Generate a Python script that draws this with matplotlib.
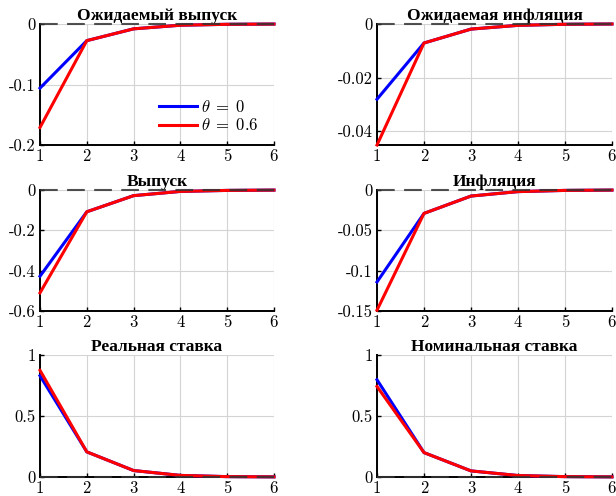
import matplotlib
matplotlib.use("Agg")
import matplotlib.pyplot as plt
from matplotlib.ticker import FuncFormatter

# Impulse responses, horizons 1..6
horizon = [1, 2, 3, 4, 5, 6]

exp_output_0 = [-0.106, -0.0275, -0.008, -0.002, -0.0005, -0.0001]
exp_output_06 = [-0.171, -0.0275, -0.008, -0.002, -0.0005, -0.0001]

exp_infl_0 = [-0.0281, -0.0071, -0.0019, -0.0005, -0.0001, 0.0]
exp_infl_06 = [-0.0452, -0.0071, -0.0019, -0.0005, -0.0001, 0.0]

output_0 = [-0.4275, -0.108, -0.028, -0.007, -0.002, -0.0005]
output_06 = [-0.51, -0.108, -0.028, -0.007, -0.002, -0.0005]

infl_0 = [-0.114, -0.029, -0.0075, -0.002, -0.0005, -0.0001]
infl_06 = [-0.149, -0.029, -0.0075, -0.002, -0.0005, -0.0001]

real_rate_0 = [0.83, 0.206, 0.053, 0.013, 0.003, 0.001]
real_rate_06 = [0.874, 0.206, 0.053, 0.013, 0.003, 0.001]

nom_rate_0 = [0.797, 0.20, 0.05, 0.012, 0.003, 0.001]
nom_rate_06 = [0.742, 0.20, 0.05, 0.012, 0.003, 0.001]

titles = [
    "Ожидаемый выпуск", "Ожидаемая инфляция",
    "Выпуск", "Инфляция",
    "Реальная ставка", "Номинальная ставка",
]
ylims = [(-0.2, 0), (-0.0452, 0), (-0.6, 0), (-0.15, 0), (0, 1), (0, 1)]
yticks = [
    [-0.2, -0.1, 0],
    [-0.04, -0.02, 0],
    [-0.6, -0.4, -0.2, 0],
    [-0.15, -0.1, -0.05, 0],
    [0, 0.5, 1],
    [0, 0.5, 1],
]
series = [
    (exp_output_0, exp_output_06),
    (exp_infl_0, exp_infl_06),
    (output_0, output_06),
    (infl_0, infl_06),
    (real_rate_0, real_rate_06),
    (nom_rate_0, nom_rate_06),
]

plt.rcParams["font.family"] = ["cmr10"]
plt.rcParams["mathtext.fontset"] = "cm"

W, H = 616, 496
fig = plt.figure(figsize=(W / 100, H / 100), dpi=100)

# axes boxes in pixels: (left, right) and (top, bottom)
col_x = [(40, 274), (377, 612)]
row_y = [(24, 145), (190, 311), (355, 477)]


def fmt(v, pos):
    return f"{v:g}"


for i in range(6):
    r, c = divmod(i, 2)
    x0, x1 = col_x[c]
    y0, y1 = row_y[r]
    ax = fig.add_axes([x0 / W, 1 - y1 / H, (x1 - x0) / W, (y1 - y0) / H])

    y_a, y_b = series[i]
    ax.plot(horizon, y_a, color="blue", lw=2.2, label=r"$\theta\;=\;0$",
            zorder=3, clip_on=False)
    ax.plot(horizon, y_b, color="red", lw=2.2, label=r"$\theta\;=\;0.6$",
            zorder=4, clip_on=False)
    ax.plot(horizon, [0] * len(horizon), color="#333333", lw=1.5,
            ls=(0, (8.5, 4.5)), zorder=5, alpha=0.85, clip_on=False)

    ax.set_xlim(1, 6)
    ax.set_ylim(*ylims[i])
    ax.set_xticks(horizon)
    ax.set_yticks(yticks[i])
    ax.yaxis.set_major_formatter(FuncFormatter(fmt))
    ax.grid(True, color="#d4d4d4", lw=0.8)
    ax.set_axisbelow(True)
    for s in ["top", "right"]:
        ax.spines[s].set_visible(False)
    for s in ["left", "bottom"]:
        ax.spines[s].set_linewidth(1.4)
    ax.tick_params(direction="in", length=3, width=1, labelsize=12, pad=3)
    ax.set_title(titles[i], fontsize=12.5, fontweight="bold",
                 family="Liberation Serif", pad=2)

    if i == 0:
        ax.legend(loc="lower right", frameon=False, fontsize=12,
                  handlelength=2.3, handletextpad=0.2, borderaxespad=0.0,
                  labelspacing=0.15, bbox_to_anchor=(0.96, 0.04))

fig.savefig("out.png", dpi=100)
